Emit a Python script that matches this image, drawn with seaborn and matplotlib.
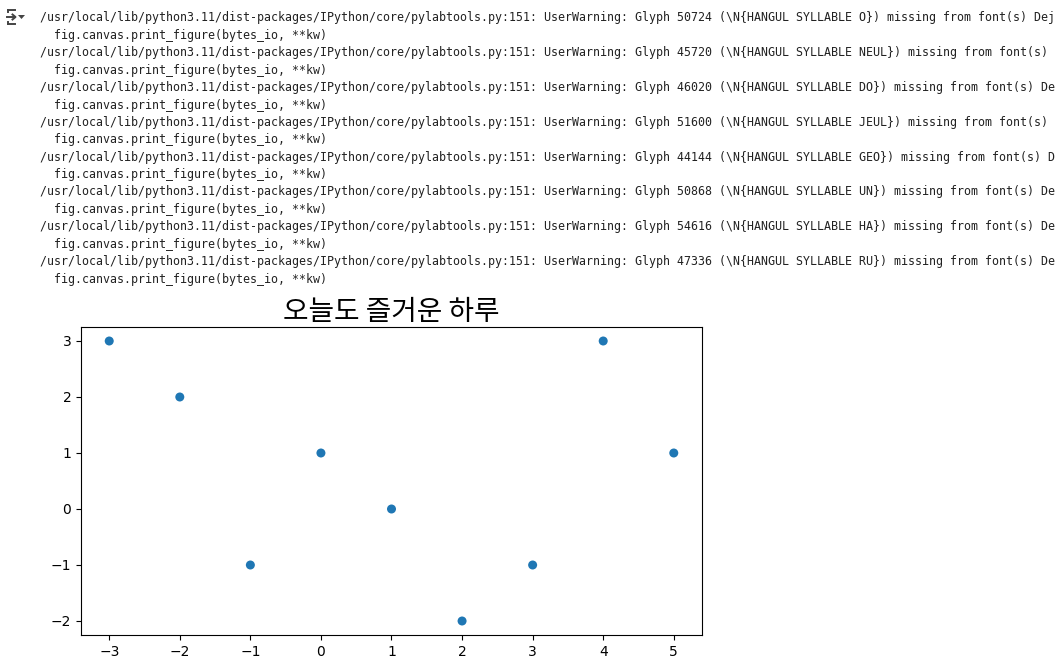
import matplotlib
matplotlib.use("Agg")
import matplotlib.pyplot as plt
from matplotlib.lines import Line2D
from matplotlib.patches import Polygon
import seaborn as sns
import pandas as pd

# ---- data ----
x_values = [-3, -2, -1, 0, 1, 2, 3, 4, 5]
y_values = [3, 2, -1, 1, 0, -2, -1, 3, 1]
title_text = "오늘도 즐거운 하루"

glyph_codes = [50724, 45720, 46020, 51600, 44144, 50868, 54616, 47336]
glyph_names = ["O", "NEUL", "DO", "JEUL", "GEO", "UN", "HA", "RU"]

df = pd.DataFrame({"x": x_values, "y": y_values})

W, H = 1056, 664
fig = plt.figure(figsize=(W / 100, H / 100), dpi=100)
fig.patch.set_facecolor("white")


def fx(px):
    return px / W


def fy(py):
    return 1 - py / H


# ---- output-cell icon ----
icon_col = "#444444"
for seg in [([8, 15], [10, 10]), ([8, 8], [10, 12]), ([8, 15], [24, 24]), ([8, 8], [22, 24]),
            ([7, 15], [17, 17])]:
    fig.add_artist(Line2D([fx(v) for v in seg[0]], [fy(v) for v in seg[1]], color=icon_col, lw=1.4))
fig.add_artist(Line2D([fx(12.5), fx(15.5), fx(12.5)], [fy(14.5), fy(17), fy(19.5)], color=icon_col, lw=1.4))
fig.add_artist(Polygon([[fx(18), fy(15)], [fx(25), fy(15)], [fx(21.5), fy(19)]], closed=True,
                       facecolor=icon_col, edgecolor="none"))

# ---- notebook warning output ----
warn_prefix = "/usr/local/lib/python3.11/dist-packages/IPython/core/pylabtools.py:151: UserWarning: "
max_chars = 145
line_y = 18.0
step = 17.4
for code, name in zip(glyph_codes, glyph_names):
    msg = warn_prefix + "Glyph %d (\\N{HANGUL SYLLABLE %s}) missing from font(s) DejaVu Sans." % (code, name)
    msg = msg[:max_chars].rstrip()
    fig.text(fx(40), fy(line_y), msg, family="DejaVu Sans Mono", fontsize=8.35,
             va="center", ha="left", color="#212121")
    line_y += step
    fig.text(fx(40), fy(line_y), "  fig.canvas.print_figure(bytes_io, **kw)",
             family="DejaVu Sans Mono", fontsize=8.35, va="center", ha="left", color="#212121")
    line_y += step

# ---- chart ----
left, right, top, bottom = 81, 702, 327, 635
ax = fig.add_axes([fx(left), fy(bottom), (right - left) / W, (bottom - top) / H])
sns.scatterplot(data=df, x="x", y="y", ax=ax, s=42, color="#1f77b4", linewidth=0, edgecolor="none")
ax.set_xlabel("")
ax.set_ylabel("")
ax.set_xticks(range(-3, 6))
ax.set_yticks(range(-2, 4))
ax.tick_params(labelsize=10)
ax.set_title(title_text, fontsize=20, pad=3, family=["Noto Sans CJK KR", "DejaVu Sans"])

fig.savefig("out.png", dpi=100)
